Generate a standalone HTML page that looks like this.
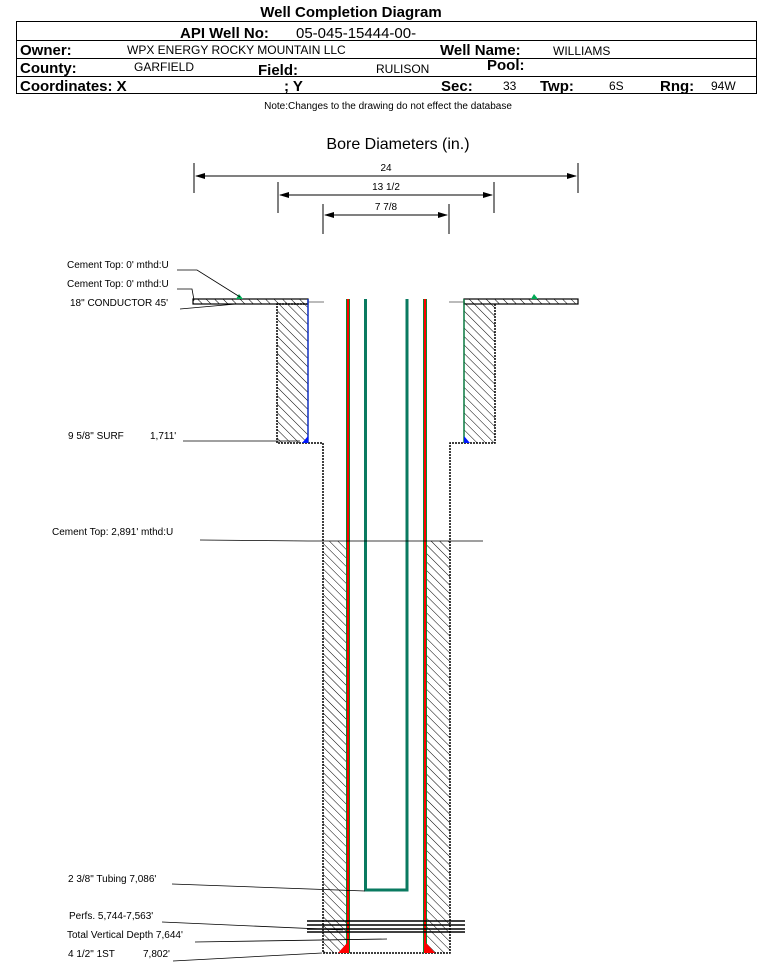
<!DOCTYPE html>
<html><head><meta charset="utf-8"><style>
html,body{margin:0;padding:0;background:#fff;}
svg{display:block;}
text{font-family:"Liberation Sans",Arial,sans-serif;}
.b{font-weight:bold;font-size:15px;}
.v{font-size:12px;}
.l{font-size:10px;}
</style></head><body>
<svg width="759" height="962" viewBox="0 0 759 962" xmlns="http://www.w3.org/2000/svg">
<defs>
<pattern id="h" patternUnits="userSpaceOnUse" width="6" height="6" patternTransform="rotate(-45)">
<line x1="0" y1="0" x2="0" y2="6" stroke="#000" stroke-width="1"/>
</pattern>
<marker id="a" markerWidth="10" markerHeight="8" refX="9" refY="4" orient="auto-start-reverse" markerUnits="userSpaceOnUse">
<path d="M0,1 L10,4 L0,7 Z" fill="#000"/>
</marker>
</defs>
<!-- header -->
<text x="351" y="17" text-anchor="middle" class="b">Well Completion Diagram</text>
<rect x="16.5" y="21.5" width="740" height="72" fill="none" stroke="#000"/>
<line x1="16" y1="40.5" x2="757" y2="40.5" stroke="#000"/>
<line x1="16" y1="58.5" x2="757" y2="58.5" stroke="#000"/>
<line x1="16" y1="76.5" x2="757" y2="76.5" stroke="#000"/>
<text x="180" y="38" class="b">API Well No:</text>
<text x="296" y="38" font-size="15">05-045-15444-00-</text>
<text x="20" y="55" class="b">Owner:</text>
<text x="127" y="54" class="v">WPX ENERGY ROCKY MOUNTAIN LLC</text>
<text x="440" y="55" class="b">Well Name:</text>
<text x="553" y="55" class="v">WILLIAMS</text>
<text x="20" y="73" class="b">County:</text>
<text x="134" y="71" class="v">GARFIELD</text>
<text x="258" y="75" class="b">Field:</text>
<text x="376" y="73" class="v">RULISON</text>
<text x="487" y="70" class="b">Pool:</text>
<text x="20" y="91" class="b">Coordinates: X</text>
<text x="284" y="91" class="b">; Y</text>
<text x="441" y="91" class="b">Sec:</text>
<text x="503" y="90" class="v">33</text>
<text x="540" y="91" class="b">Twp:</text>
<text x="609" y="90" class="v">6S</text>
<text x="660" y="91" class="b">Rng:</text>
<text x="711" y="90" class="v">94W</text>
<text x="388" y="109" text-anchor="middle" font-size="10">Note:Changes to the drawing do not effect the database</text>

<!-- dimensions -->
<text x="398" y="149" text-anchor="middle" font-size="16">Bore Diameters (in.)</text>
<g stroke="#000" stroke-width="1">
<line x1="194" y1="163" x2="194" y2="193"/><line x1="578" y1="163" x2="578" y2="193"/>
<line x1="196" y1="176" x2="576" y2="176" marker-start="url(#a)" marker-end="url(#a)"/>
<line x1="278" y1="182" x2="278" y2="213"/><line x1="494" y1="182" x2="494" y2="213"/>
<line x1="280" y1="195" x2="492" y2="195" marker-start="url(#a)" marker-end="url(#a)"/>
<line x1="323" y1="204" x2="323" y2="234"/><line x1="449" y1="204" x2="449" y2="234"/>
<line x1="325" y1="215" x2="447" y2="215" marker-start="url(#a)" marker-end="url(#a)"/>
</g>
<text x="386" y="171" text-anchor="middle" font-size="10">24</text>
<text x="386" y="190" text-anchor="middle" font-size="10">13 1/2</text>
<text x="386" y="210" text-anchor="middle" font-size="10">7 7/8</text>

<!-- conductor flange -->
<rect x="193" y="299" width="115" height="5" fill="url(#h)" stroke="#000" stroke-width="1.2"/>
<rect x="464" y="299" width="114" height="5" fill="url(#h)" stroke="#000" stroke-width="1.2"/>
<!-- surface hatch -->
<rect x="277" y="302" width="31" height="141" fill="url(#h)"/>
<rect x="464" y="302" width="31" height="141" fill="url(#h)"/>
<g stroke="#000" stroke-width="1.5" fill="none" stroke-dasharray="2,1">
<path d="M308,304 H277 V443 H323 V953 H450 V443 H495 V304"/>
</g>
<line x1="308" y1="302" x2="324" y2="302" stroke="#777"/>
<line x1="449" y1="302" x2="464" y2="302" stroke="#777"/>
<line x1="308" y1="299" x2="308" y2="443" stroke="#1030c0" stroke-width="1.5"/>
<line x1="464" y1="299" x2="464" y2="443" stroke="#0a7a40" stroke-width="1.5"/>
<path d="M302,443 L308,436 L308,443Z" fill="#0018ff"/>
<path d="M464,443 L464,436 L470,443Z" fill="#0018ff"/>
<path d="M236,299 L239,294 L243,299Z" fill="#0a5"/>
<path d="M531,299 L534,294 L538,299Z" fill="#0a5"/>
<!-- production cement -->
<rect x="323" y="541" width="24" height="412" fill="url(#h)"/>
<rect x="427" y="541" width="23" height="412" fill="url(#h)"/>
<!-- production casing -->
<line x1="348" y1="299" x2="348" y2="953" stroke="#0a8a30" stroke-width="4"/>
<line x1="348" y1="299" x2="348" y2="953" stroke="#f00" stroke-width="2"/>
<line x1="425" y1="299" x2="425" y2="953" stroke="#0a8a30" stroke-width="4"/>
<line x1="425" y1="299" x2="425" y2="953" stroke="#f00" stroke-width="2"/>
<path d="M338,953 L347,943 L347,953Z" fill="#f00"/>
<path d="M426,943 L435,953 L426,953Z" fill="#f00"/>
<!-- tubing -->
<path d="M365.5,299 V890 H407 V299" fill="none" stroke="#0a7a60" stroke-width="3"/>
<!-- perfs -->
<g stroke="#000" stroke-width="1.5">
<line x1="307" y1="921" x2="465" y2="921"/><line x1="307" y1="925" x2="465" y2="925"/>
<line x1="307" y1="929" x2="465" y2="929"/><line x1="307" y1="932" x2="465" y2="932"/>
</g>
<!-- leaders & labels -->
<g stroke="#000" stroke-width="0.8" fill="none">
<path d="M177,270 H197 L240,297"/>
<path d="M177,289 H192 L194,300 L193,301"/>
<path d="M180,309 L236,304"/>
<path d="M183,441 H300"/>
<path d="M200,540 L308,541 H483"/>
<path d="M172,884 L365,891"/>
<path d="M162,922 L343,930"/>
<path d="M195,942 L387,939"/>
<path d="M173,961 L322,953"/>
</g>
<text x="67" y="268" class="l">Cement Top: 0' mthd:U</text>
<text x="67" y="287" class="l">Cement Top: 0' mthd:U</text>
<text x="70" y="306" class="l">18" CONDUCTOR  45'</text>
<text x="68" y="439" class="l">9 5/8" SURF</text>
<text x="150" y="439" class="l">1,711'</text>
<text x="52" y="535" class="l">Cement Top: 2,891' mthd:U</text>
<text x="68" y="882" class="l">2 3/8" Tubing 7,086'</text>
<text x="69" y="919" class="l">Perfs. 5,744-7,563'</text>
<text x="67" y="938" class="l">Total Vertical Depth 7,644'</text>
<text x="68" y="957" class="l">4 1/2" 1ST</text>
<text x="143" y="957" class="l">7,802'</text>
</svg>
</body></html>
